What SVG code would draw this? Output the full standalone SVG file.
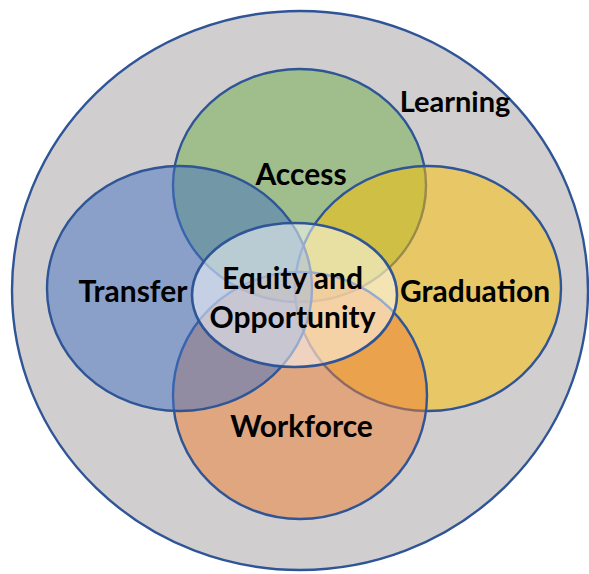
<svg xmlns="http://www.w3.org/2000/svg" width="589" height="574" viewBox="0 0 589 574">
<style>
.c{stroke:#2F5597;stroke-width:2.4;fill-opacity:0.5}
.t{font-family:Lato,"Liberation Sans",sans-serif;font-weight:bold;font-size:30px;fill:#000;text-anchor:middle}
</style>
<rect width="589" height="574" fill="#fff"/>
<g id="learning">
<ellipse cx="300" cy="290.5" rx="288" ry="279.5" fill="#D0CECE" stroke="#2F5597" stroke-width="2.4"/>
<text class="t" x="455" y="112" style="font-size:29px">Learning</text>
</g>
<g id="access">
<ellipse class="c" cx="299.5" cy="185.5" rx="126.5" ry="116.5" fill="#70AD47"/>
</g>
<g id="graduation">
<ellipse class="c" cx="428" cy="288.5" rx="133" ry="122.5" fill="#FFC000"/>
</g>
<g id="workforce">
<ellipse class="c" cx="300" cy="395.5" rx="127" ry="123.5" fill="#ED7D31"/>
</g>
<g id="transfer">
<ellipse class="c" cx="179.5" cy="288.5" rx="132.5" ry="122.5" fill="#4472C4"/>
</g>
<g id="equity">
<ellipse cx="294.5" cy="295" rx="102.5" ry="72" fill="#fff" fill-opacity="0.5" stroke="#2F5597" stroke-width="2.6"/>
</g>
<g id="labels">
<text class="t" x="301" y="185">Access</text>
<text class="t" x="133" y="302">Transfer</text>
<text class="t" x="475" y="302">Graduation</text>
<text class="t" x="301.5" y="437">Workforce</text>
<text class="t" x="292.5" y="289">Equity and</text>
<text class="t" x="292.5" y="328">Opportunity</text>
</g>
<g id="connectors"/>
</svg>
